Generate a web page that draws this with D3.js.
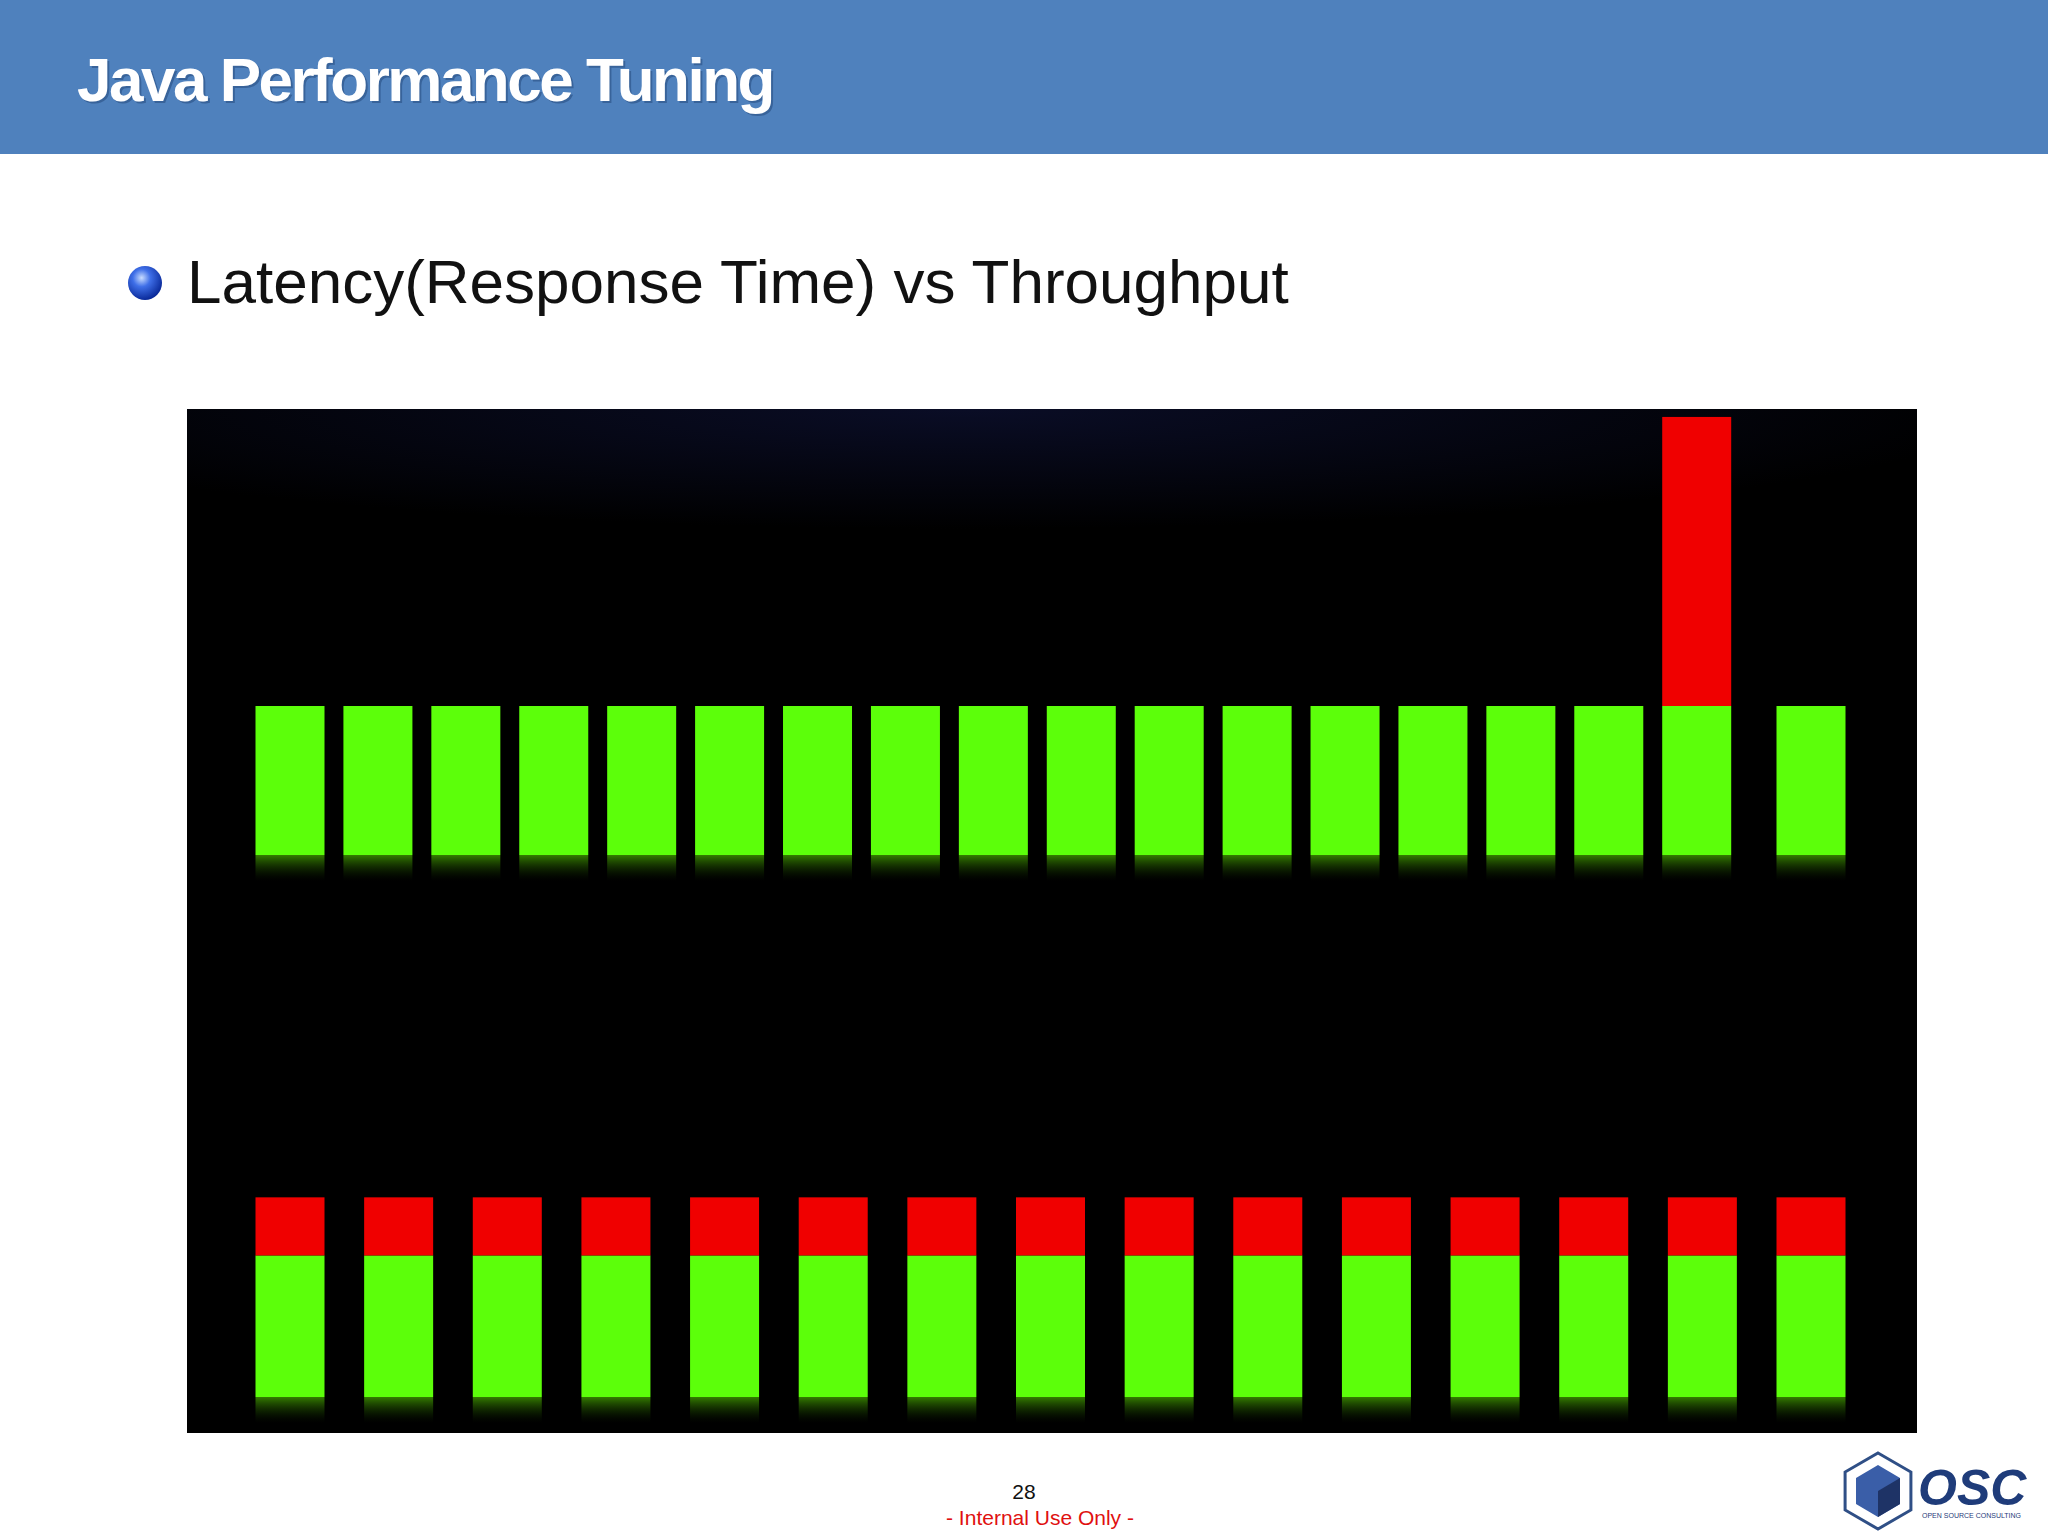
<!DOCTYPE html>
<html><head><meta charset="utf-8">
<script src="https://cdn.jsdelivr.net/npm/d3@7"></script>
<style>body{margin:0;background:#fff}svg{display:block}</style>
</head><body>
<script>
// Top row: 18 requests, one with a latency spike
const topSlots = [0,1,2,3,4,5,6,7,8,9,10,11,12,13,14,15,16,17.3];
const topGreen = [1,1,1,1,1,1,1,1,1,1,1,1,1,1,1,1,1,1];
const topRed   = [0,0,0,0,0,0,0,0,0,0,0,0,0,0,0,0,1.94,0];
// Bottom row: 15 requests, each with a small constant extra latency
const botSlots = [0,1,2,3,4,5,6,7,8,9,10,11,12,13,14];
const botGreen = [0.95,0.95,0.95,0.95,0.95,0.95,0.95,0.95,0.95,0.95,0.95,0.95,0.95,0.95,0.95];
const botRed   = [0.39,0.39,0.39,0.39,0.39,0.39,0.39,0.39,0.39,0.39,0.39,0.39,0.39,0.39,0.39];

const W=2048,H=1536;
const svg=d3.select("body").append("svg").attr("width",W).attr("height",H);
const defs=svg.append("defs");
const g1=defs.append("linearGradient").attr("id","refl").attr("x1",0).attr("x2",0).attr("y1",0).attr("y2",1);
g1.append("stop").attr("offset",0).attr("stop-color","#3a8a00").attr("stop-opacity",0.9);
g1.append("stop").attr("offset",1).attr("stop-color","#0a2000").attr("stop-opacity",0);
const g2=defs.append("radialGradient").attr("id","ball").attr("cx","40%").attr("cy","35%").attr("r","65%");
g2.append("stop").attr("offset",0).attr("stop-color","#c8dcff");
g2.append("stop").attr("offset",0.4).attr("stop-color","#3f6fe8");
g2.append("stop").attr("offset",1).attr("stop-color","#0a2a9a");
const g3=defs.append("radialGradient").attr("id","sky").attr("cx","45%").attr("cy","0%").attr("r","60%");
g3.append("stop").attr("offset",0).attr("stop-color","#0a0d26");
g3.append("stop").attr("offset",1).attr("stop-color","#000000");

// header
svg.append("rect").attr("width",W).attr("height",154).attr("fill","#4f81bd");
const tg=svg.append("g").attr("font-family","Liberation Sans, Arial").attr("font-size",62).attr("font-weight","bold").attr("letter-spacing",-2.5);
tg.append("text").attr("x",79).attr("y",103).attr("fill","#1d3f70").attr("opacity",0.45).text("Java Performance Tuning");
tg.append("text").attr("x",77).attr("y",101).attr("fill","#fff").text("Java Performance Tuning");

// bullet
svg.append("circle").attr("cx",145).attr("cy",283).attr("r",17).attr("fill","url(#ball)");
svg.append("text").attr("x",187).attr("y",303).attr("font-family","Liberation Sans, Arial").attr("font-size",62).attr("fill","#111").text("Latency(Response Time) vs Throughput");

// panel
const px0=187,px1=1917,py0=409,py1=1433;
svg.append("rect").attr("x",px0).attr("y",py0).attr("width",px1-px0).attr("height",py1-py0).attr("fill","#000");
svg.append("rect").attr("x",px0).attr("y",py0).attr("width",px1-px0).attr("height",200).attr("fill","url(#sky)");

const unit=149;
const yTop=d3.scaleLinear().domain([0,1]).range([855,855-unit]);
const yBot=d3.scaleLinear().domain([0,1]).range([1397,1397-unit]);
const xTop=d3.scaleLinear().domain([0,17.3]).range([290,1811]);
const xBot=d3.scaleLinear().domain([0,14]).range([290,1811]);
const bw=69;

function row(slots,green,red,x,y){
  const gr=svg.append("g");
  slots.forEach((s,i)=>{
    const cx=x(s);
    gr.append("rect").attr("x",cx-bw/2).attr("y",y(0)).attr("width",bw).attr("height",26).attr("fill","url(#refl)");
    gr.append("rect").attr("x",cx-bw/2).attr("y",y(green[i])).attr("width",bw).attr("height",y(0)-y(green[i])).attr("fill","#5cff0a");
    if(red[i]>0) gr.append("rect").attr("x",cx-bw/2).attr("y",y(green[i]+red[i])).attr("width",bw).attr("height",y(green[i])-y(green[i]+red[i])).attr("fill","#f00000");
  });
}
row(topSlots,topGreen,topRed,xTop,yTop);
row(botSlots,botGreen,botRed,xBot,yBot);

// footer
svg.append("text").attr("x",1024).attr("y",1499).attr("text-anchor","middle").attr("font-family","Liberation Sans, Arial").attr("font-size",21).attr("fill","#111").text("28");
svg.append("text").attr("x",1040).attr("y",1525).attr("text-anchor","middle").attr("font-family","Liberation Sans, Arial").attr("font-size",21).attr("fill","#e01010").text("- Internal Use Only -");

// logo
const hx=1878,hy=1491,hr=38;
const hex=d3.range(6).map(k=>{const a=Math.PI/3*k-Math.PI/2;return [hx+hr*Math.cos(a),hy+hr*Math.sin(a)];});
svg.append("polygon").attr("points",hex.join(" ")).attr("fill","#fff").attr("stroke","#2f4f86").attr("stroke-width",3);
svg.append("polygon").attr("points",[[hx,hy-26],[hx+22,hy-13],[hx+22,hy+13],[hx,hy+26],[hx-22,hy+13],[hx-22,hy-13]].join(" ")).attr("fill","#3a5ea8");
svg.append("polygon").attr("points",[[hx,hy],[hx+22,hy-13],[hx+22,hy+13],[hx,hy+26]].join(" ")).attr("fill","#1e3366");
svg.append("text").attr("x",1918).attr("y",1505).attr("font-family","Liberation Sans, Arial").attr("font-size",50).attr("font-weight","bold").attr("font-style","italic").attr("fill","#1f3c7a").text("OSC");
svg.append("text").attr("x",1922).attr("y",1518).attr("font-family","Liberation Sans, Arial").attr("font-size",7).attr("fill","#1f3c7a").text("OPEN SOURCE CONSULTING");
</script>
</body></html>
